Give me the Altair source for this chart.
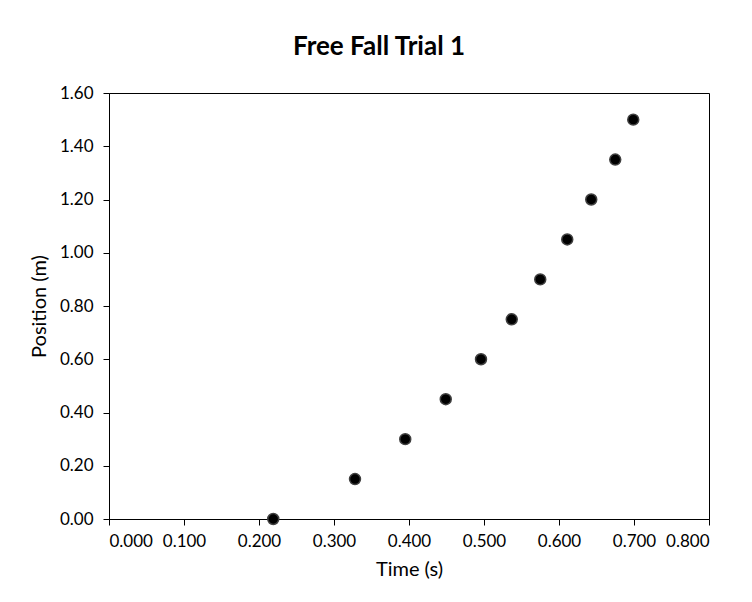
import altair as alt
import pandas as pd

time_s = [0.219, 0.328, 0.395, 0.449, 0.496, 0.537, 0.575, 0.611, 0.643, 0.675, 0.699]
position_m = [0.00, 0.15, 0.30, 0.45, 0.60, 0.75, 0.90, 1.05, 1.20, 1.35, 1.50]
x_ticks = [0.0, 0.1, 0.2, 0.3, 0.4, 0.5, 0.6, 0.7, 0.8]
y_ticks = [0.0, 0.2, 0.4, 0.6, 0.8, 1.0, 1.2, 1.4, 1.6]

df = pd.DataFrame({"t": time_s, "p": position_m})

FONT = "Lato"

chart = alt.Chart(df).mark_point(
    filled=True, shape="circle", size=120, color="#000000",
    stroke="#404040", strokeWidth=1.5, opacity=1
).encode(
    x=alt.X("t:Q", scale=alt.Scale(domain=[0, 0.8], nice=False, zero=False),
            axis=alt.Axis(title="Time (s)", format=".3f", values=x_ticks,
                          grid=False, tickSize=6, domainColor="#000000", tickColor="#000000",
                          labelFont=FONT, labelFontSize=17, labelColor="#000000",
                          titleFont=FONT, titleFontSize=20, titleFontWeight="normal",
                          titleColor="#000000", labelPadding=8, titlePadding=10)),
    y=alt.Y("p:Q", scale=alt.Scale(domain=[0, 1.6], nice=False),
            axis=alt.Axis(title="Position (m)", format=".2f", values=y_ticks,
                          grid=False, tickSize=6, domainColor="#000000", tickColor="#000000",
                          labelFont=FONT, labelFontSize=17, labelColor="#000000",
                          titleFont=FONT, titleFontSize=20, titleFontWeight="normal",
                          titleColor="#000000", labelPadding=10, titlePadding=10)),
).properties(
    width=600, height=426,
    title=alt.TitleParams("Free Fall Trial 1", font=FONT, fontSize=26, fontWeight="bold",
                          color="#000000", anchor="middle", dx=-30, offset=24),
    padding={"left": 101, "top": 85, "right": 35, "bottom": 70},
    autosize=alt.AutoSizeParams(type="none"),
).configure_view(stroke="#000000", strokeWidth=1)

chart.save("out.html", embed_options={"renderer": "svg", "actions": False})
